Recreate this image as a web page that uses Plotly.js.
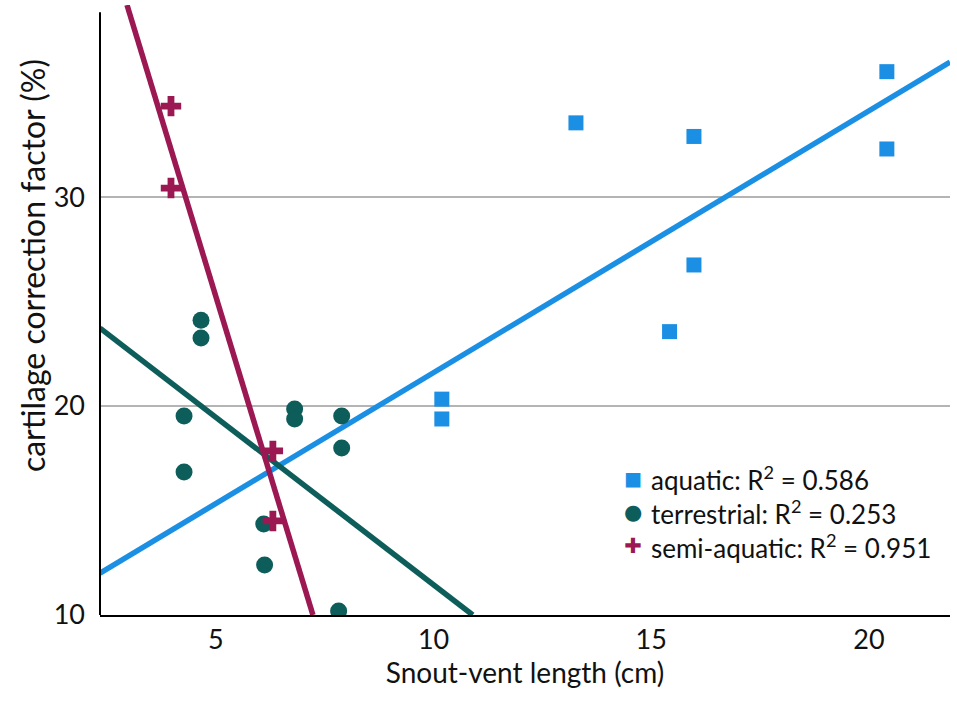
<!DOCTYPE html>
<html>
    <head>
        <script src="https://cdn.plot.ly/plotly-3.0.1.min.js"></script>
        <style>body { margin: 0; }</style>
    </head>
    <body>
        <div id="plot" style="width:957px;height:701px;"></div>
        <script type="text/javascript">
            // points
            var aquaX = [13.27, 15.98, 20.41, 20.41, 15.98, 15.42, 10.19, 10.19];
            var aquaY = [33.55, 32.9, 36.0, 32.3, 26.75, 23.56, 20.33, 19.38];
            var terrX = [4.66, 4.66, 4.27, 4.27, 6.81, 6.81, 7.89, 7.89, 6.1, 6.12, 7.82];
            var terrY = [24.11, 23.25, 19.52, 16.84, 19.86, 19.38, 19.52, 17.99, 14.35, 12.39, 10.19];
            var semiX = [3.97, 3.97, 6.31, 6.31];
            var semiY = [34.35, 30.43, 17.85, 14.5];

            // fit lines, ends
            var aquaFitX = [2.34, 21.86];
            var aquaFitY = [12.0, 36.46];
            var terrFitX = [2.34, 10.9];
            var terrFitY = [23.73, 10.0];
            var semiFitX = [2.96, 7.23];
            var semiFitY = [39.19, 10.0];

            var labels = ['aquatic: R<sup>2</sup> = 0.586', 'terrestrial: R<sup>2</sup> = 0.253', 'semi-aquatic: R<sup>2</sup> = 0.951'];

            var blue = '#1b8fe3', teal = '#0d5d5b', plum = '#9b1853';
            var colors = [blue, teal, plum];
            var glyphs = ['\u25A0', '\u25CF', '\u271A'];
            var glyphPx = [19, 21, 21];

            var traces = [
                {x: aquaFitX, y: aquaFitY, mode: 'lines', line: {color: blue, width: 5.5}},
                {x: terrFitX, y: terrFitY, mode: 'lines', line: {color: teal, width: 5.5}},
                {x: semiFitX, y: semiFitY, mode: 'lines', line: {color: plum, width: 5.5}},
                {x: aquaX, y: aquaY, mode: 'markers', marker: {symbol: 'square', size: 15, color: blue}},
                {x: terrX, y: terrY, mode: 'markers', marker: {symbol: 'circle', size: 17, color: teal}},
                {x: semiX, y: semiY, mode: 'markers', marker: {symbol: 'cross', size: 17, color: plum}}
            ];

            // hand-made legend: one block of text, one block of coloured glyphs
            var glyphText = glyphs.map(function(g, i) {
                return '<span style="color:' + colors[i] + ';font-size:' + glyphPx[i] + 'px">' + g + '</span>';
            }).join('<br>');

            var annotations = [
                {text: 'cartilage correction factor (%)', xref: 'paper', yref: 'paper',
                    x: -0.08, y: 0.572, textangle: -90, showarrow: false,
                    font: {size: 32}, xanchor: 'center', yanchor: 'middle'},
                {text: labels.join('<br>'), xref: 'paper', yref: 'paper', x: 0.646, y: 0.168,
                    xanchor: 'left', yanchor: 'middle', align: 'left', showarrow: false,
                    font: {size: 26}},
                {text: glyphText, xref: 'paper', yref: 'paper', x: 0.627, y: 0.168,
                    xanchor: 'center', yanchor: 'middle', align: 'center', showarrow: false,
                    font: {family: 'DejaVu Sans', size: 26}}
            ];

            var layout = {
                width: 957, height: 701,
                margin: {l: 100, r: 7, t: 5, b: 86},
                paper_bgcolor: 'white', plot_bgcolor: 'white',
                font: {family: 'Lato, sans-serif', size: 26, color: '#111'},
                showlegend: false,
                xaxis: {
                    range: [2.34, 21.86], tickvals: [5, 10, 15, 20],
                    tickfont: {size: 27},
                    showgrid: false, zeroline: false,
                    showline: true, linecolor: '#000', linewidth: 2,
                    ticks: '', ticklabelstandoff: 0,
                    title: {text: 'Snout-vent length (cm)', font: {size: 28}, standoff: 8}
                },
                yaxis: {
                    range: [10, 39.19], tickvals: [10, 20, 30],
                    tickfont: {size: 27},
                    showgrid: true, gridcolor: '#b4b4b4', gridwidth: 2,
                    zeroline: false, showline: false,
                    ticks: '', ticklabelstandoff: 14
                },
                shapes: [
                    {type: 'line', xref: 'paper', yref: 'paper', x0: 0, x1: 0, y0: 0, y1: 0.988,
                        line: {color: '#000', width: 2}}
                ],
                annotations: annotations
            };

            Plotly.newPlot('plot', traces, layout, {displayModeBar: false, staticPlot: true});
        </script>
    </body>
</html>
